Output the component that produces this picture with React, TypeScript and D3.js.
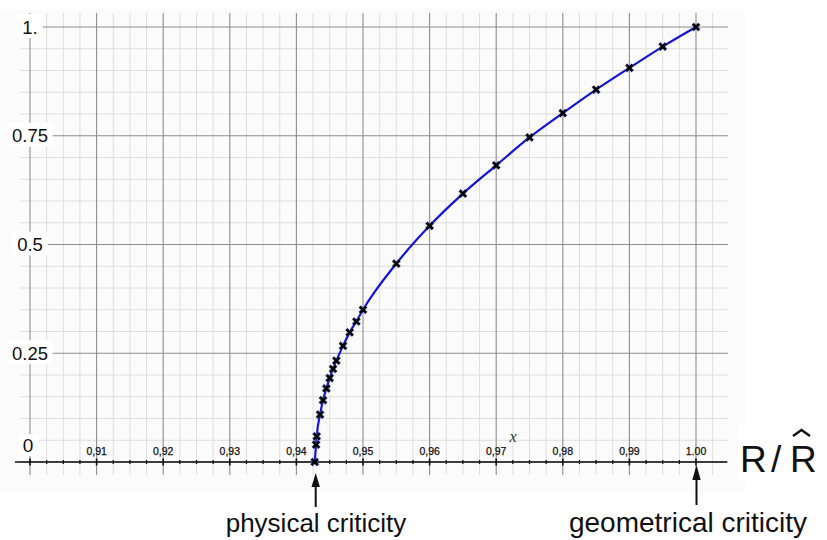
import React from "react";
import * as d3 from "d3";

const ratioX = [0.94275, 0.94296, 0.94305, 0.94355, 0.944, 0.9445, 0.945, 0.9455, 0.946, 0.947, 0.948, 0.949, 0.95, 0.955, 0.96, 0.965, 0.97, 0.975, 0.98, 0.985, 0.99, 0.995, 1.0];
const valueY = [0, 0.04, 0.059, 0.109, 0.142, 0.169, 0.193, 0.214, 0.233, 0.267, 0.298, 0.323, 0.35, 0.456, 0.543, 0.617, 0.682, 0.746, 0.802, 0.856, 0.906, 0.955, 1.0];

const xTickValues = [0.91, 0.92, 0.93, 0.94, 0.95, 0.96, 0.97, 0.98, 0.99, 1.0];
const xTickLabels = ["0,91", "0,92", "0,93", "0,94", "0,95", "0,96", "0,97", "0,98", "0,99", "1.00"];
const yTickValues = [1, 0.75, 0.5, 0.25];
const yTickLabels = ["1.", "0.75", "0.5", "0.25"];

const W = 827;
const H = 540;

export default function App() {
  const x = d3.scaleLinear().domain([0.9, 1.0]).range([30, 696]);
  const y = d3.scaleLinear().domain([0, 1]).range([462, 27]);

  const vLines = d3.range(0, 42).map((i) => ({ v: 0.9 + i * 0.0025, major: i % 4 === 0 }));
  const hLines = d3.range(0, 21).map((j) => ({ v: j * 0.05, major: j % 5 === 0 }));
  const axisTicks = d3.range(0, 41).map((i) => ({ v: 0.9 + i * 0.0025, major: i % 4 === 0 }));

  const pts = ratioX.map((v, i) => [v, valueY[i]] as [number, number]);
  const line = d3
    .line<[number, number]>()
    .x((d) => x(d[0]))
    .y((d) => y(d[1]))
    .curve(d3.curveMonotoneX);

  const font = "'Liberation Sans', Arial, Helvetica, sans-serif";
  const axisY = y(0);

  return (
    <svg
      width={W}
      height={H}
      style={{ position: "absolute", left: 0, top: 0, background: "#ffffff" }}
      fontFamily={font}
    >
      <rect x={0} y={10} width={745} height={482} fill="#fbfbfb" />
      {/* minor grid */}
      {hLines.filter((h) => !h.major).map((h, i) => (
        <line key={"hm" + i} x1={20} x2={728} y1={y(h.v)} y2={y(h.v)} stroke="#dedede" strokeWidth={1} />
      ))}
      {vLines.filter((v) => !v.major).map((v, i) => (
        <line key={"vm" + i} x1={x(v.v)} x2={x(v.v)} y1={13} y2={475} stroke="#dedede" strokeWidth={1} />
      ))}
      {/* major grid */}
      {hLines.filter((h) => h.major).map((h, i) => (
        <line key={"hM" + i} x1={20} x2={728} y1={y(h.v)} y2={y(h.v)} stroke="#8e8e8e" strokeWidth={1.2} />
      ))}
      {vLines.filter((v) => v.major).map((v, i) => (
        <line key={"vM" + i} x1={x(v.v)} x2={x(v.v)} y1={13} y2={475} stroke="#8e8e8e" strokeWidth={1.1} />
      ))}

      {/* y labels */}
      {yTickValues.map((v, i) => {
        const lab = yTickLabels[i];
        const w = lab.length * 9.8 + 6;
        return (
          <g key={"yl" + i}>
            <rect x={30 - w / 2} y={y(v) - 13} width={w} height={24} fill="#ffffff" />
            <text x={30} y={y(v) + 6.5} textAnchor="middle" fontSize={18.5} fill="#111">
              {lab}
            </text>
          </g>
        );
      })}
      <rect x={18} y={434} width={21} height={22} fill="#ffffff" />
      <text x={28} y={452} textAnchor="middle" fontSize={19} fill="#111">0</text>

      {/* x axis */}
      <line x1={15} x2={727} y1={axisY} y2={axisY} stroke="#111" strokeWidth={1.6} />
      {axisTicks.map((t, i) => (
        <line
          key={"at" + i}
          x1={x(t.v)}
          x2={x(t.v)}
          y1={axisY - (t.major ? 3.5 : 2)}
          y2={axisY + (t.major ? 3.5 : 2)}
          stroke="#111"
          strokeWidth={t.major ? 1.6 : 1.3}
        />
      ))}
      {xTickValues.map((v, i) => (
        <text key={"xl" + i} x={x(v)} y={455} textAnchor="middle" fontSize={10.5} fill="#111" stroke="#111" strokeWidth={0.25}>
          {xTickLabels[i]}
        </text>
      ))}
      <text x={513} y={442} textAnchor="middle" fontSize={16} fontStyle="italic" fontFamily="'Liberation Serif', 'DejaVu Serif', serif" fill="#333">
        x
      </text>

      {/* curve */}
      <path d={line(pts) || ""} fill="none" stroke="#1414d8" strokeWidth={2.2} />
      {pts.map((d, i) => (
        <g key={"m" + i} transform={`translate(${x(d[0])},${y(d[1])})`}>
          <path d="M-3.4,-3.4L3.4,3.4M-3.4,3.4L3.4,-3.4" stroke="#4a5ad8" strokeWidth={3.8} opacity={0.45} />
          <path d="M-3.2,-3.2L3.2,3.2M-3.2,3.2L3.2,-3.2" stroke="#000" strokeWidth={2.6} />
        </g>
      ))}

      {/* R / R-hat label */}
      <rect x={738} y={425} width={89} height={55} fill="#ffffff" />
      <text x={740} y={472} fontSize={37} fill="#111">R</text>
      <text x={771} y={472} fontSize={37} fill="#111">/</text>
      <text x={790} y={472} fontSize={37} fill="#111">R</text>
      <path d="M793,436 L801.5,430 L810,436" fill="none" stroke="#111" strokeWidth={2.4} />

      {/* arrows */}
      <line x1={315.7} x2={315.7} y1={507} y2={484} stroke="#111" strokeWidth={2} />
      <path d="M315.7,473 L311.5,487 L319.9,487 Z" fill="#111" />
      <line x1={696.5} x2={696.5} y1={505} y2={478} stroke="#111" strokeWidth={2} />
      <path d="M696.5,465 L692.3,480 L700.7,480 Z" fill="#111" />

      <text x={316} y={532} textAnchor="middle" fontSize={26} fill="#111">physical criticity</text>
      <text x={688} y={532} textAnchor="middle" fontSize={28} fill="#111">geometrical criticity</text>
    </svg>
  );
}
